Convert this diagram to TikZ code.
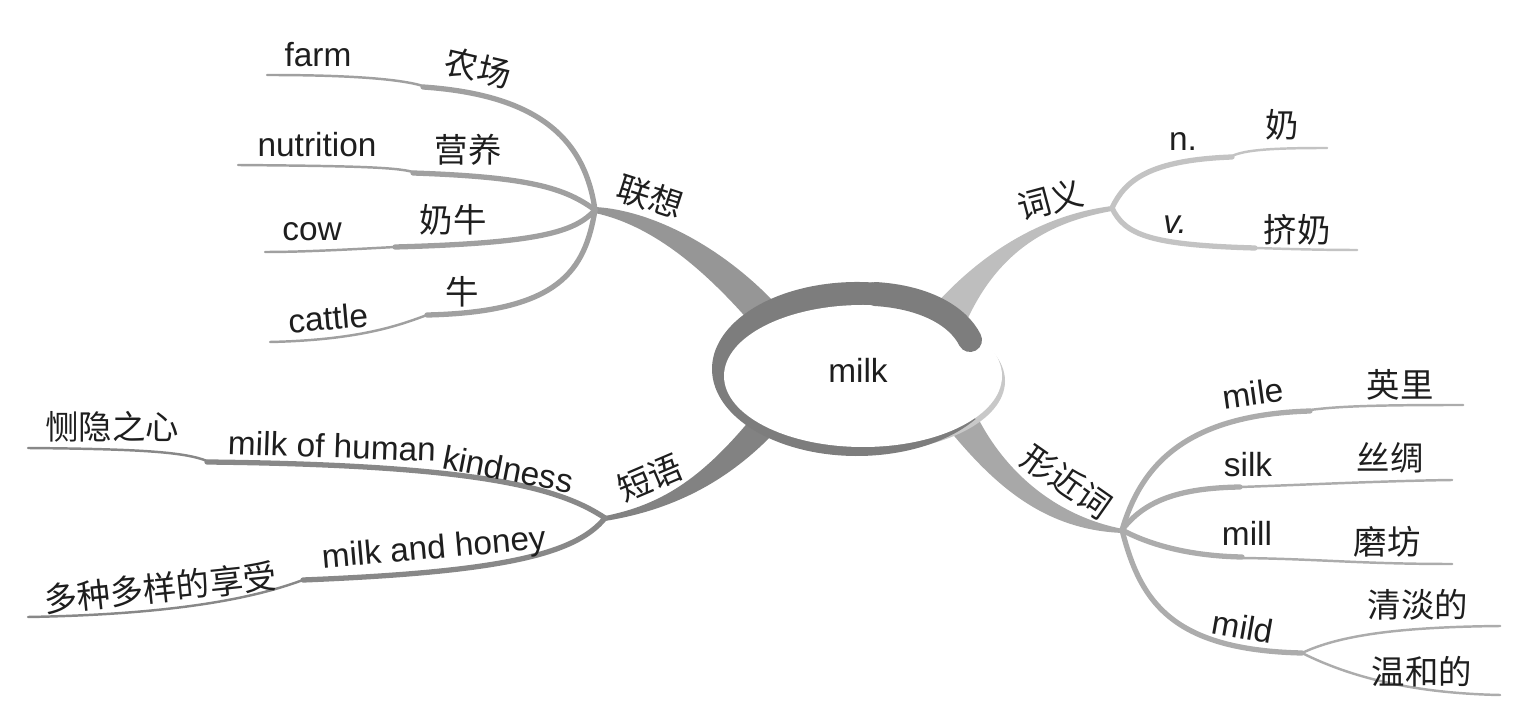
\documentclass[tikz,border=0pt]{standalone}
\usepackage{fontspec}
\setmainfont{Liberation Sans}
\newfontfamily\cjk{Noto Sans CJK SC}
\definecolor{ringgray}{RGB}{125,125,125}
\definecolor{shadowgray}{RGB}{200,200,200}
\definecolor{assocgray}{RGB}{150,150,150}
\definecolor{assocsub}{RGB}{160,160,160}
\definecolor{meangray}{RGB}{190,190,190}
\definecolor{meansub}{RGB}{195,195,195}
\definecolor{simgray}{RGB}{168,168,168}
\definecolor{simsub}{RGB}{172,172,172}
\definecolor{phrgray}{RGB}{130,130,130}
\definecolor{phrsub}{RGB}{136,136,136}
\definecolor{inkblack}{RGB}{30,30,30}

\tikzset{
  en/.style={font=\fontsize{9.5}{11}\selectfont, text=inkblack, inner sep=0pt},
  zh/.style={font=\cjk\fontsize{9.5}{11}\selectfont, text=inkblack, inner sep=0pt},
  twig/.style={line width=1.5pt, line cap=round},
  tip/.style={line width=0.7pt, line cap=round}
}

\begin{document}
\begin{tikzpicture}[x=0.01cm, y=0.01cm]

% Canvas (pixel grid, y downwards as negative)
\useasboundingbox (0,0) rectangle (1522,-707);

% Branch points
\coordinate (lx) at (595,-210);  % 联想
\coordinate (cy) at (1112,-208); % 词义
\coordinate (xj) at (1122,-530); % 形近词
\coordinate (dy) at (605,-518);  % 短语
\coordinate (md) at (1302,-653); % mild

% Trunks
\fill[assocgray] (lx) ++(0,3) .. controls (650,-210) and (720,-245) .. (775,-303)
  -- (750,-322) .. controls (700,-265) and (650,-225) .. (595,-213) -- cycle;
\fill[meangray] (935,-305) .. controls (980,-255) and (1040,-215) .. (1112,-206)
  -- (1112,-211) .. controls (1050,-222) and (1000,-250) .. (968,-318) -- cycle;
\fill[simgray] (975,-412) .. controls (1000,-465) and (1050,-515) .. (1123,-529)
  -- (1123,-533) .. controls (1040,-530) and (990,-480) .. (945,-425) -- cycle;
\fill[phrgray] (750,-420) .. controls (700,-480) and (660,-505) .. (605,-516)
  -- (605,-521) .. controls (660,-512) and (720,-490) .. (775,-432) -- cycle;

% 联想 twigs
\draw[assocsub, twig] (lx) .. controls (585,-140) and (540,-95) .. (423,-87);
\draw[assocsub, tip] (423,-86) .. controls (400,-79) and (350,-75) .. (267,-75);
\draw[assocsub, twig] (lx) .. controls (565,-188) and (530,-177) .. (413,-173);
\draw[assocsub, tip] (413,-172) .. controls (395,-167) and (350,-166) .. (238,-165);
\draw[assocsub, twig] (lx) .. controls (575,-232) and (540,-243) .. (395,-247);
\draw[assocsub, tip] (395,-247) .. controls (340,-250) and (300,-252) .. (265,-252);
\draw[assocsub, twig] (lx) .. controls (585,-270) and (560,-312) .. (427,-315);
\draw[assocsub, tip] (427,-315) .. controls (400,-325) and (360,-340) .. (270,-342);

% 词义 twigs
\draw[meansub, twig] (cy) .. controls (1125,-180) and (1150,-160) .. (1232,-157);
\draw[meansub, tip] (1232,-156) .. controls (1245,-150) and (1270,-148) .. (1327,-148);
\draw[meansub, twig] (cy) .. controls (1125,-235) and (1150,-245) .. (1255,-248);
\draw[meansub, tip] (1255,-248) .. controls (1290,-249) and (1320,-250) .. (1357,-250);

% 形近词 twigs
\draw[simsub, twig] (xj) .. controls (1140,-470) and (1180,-415) .. (1310,-411);
\draw[simsub, tip] (1310,-410) .. controls (1340,-406) and (1380,-405) .. (1463,-405);
\draw[simsub, twig] (xj) .. controls (1145,-500) and (1180,-488) .. (1240,-487);
\draw[simsub, tip] (1240,-487) .. controls (1300,-485) and (1380,-481) .. (1452,-480);
\draw[simsub, twig] (xj) .. controls (1150,-545) and (1190,-556) .. (1242,-557);
\draw[simsub, tip] (1242,-558) .. controls (1320,-559) and (1360,-564) .. (1452,-564);
\draw[simsub, twig] (xj) .. controls (1140,-600) and (1170,-650) .. (md);
\draw[simsub, tip] (md) .. controls (1340,-635) and (1400,-627) .. (1500,-626);
\draw[simsub, tip] (md) .. controls (1340,-672) and (1400,-693) .. (1500,-695);

% 短语 twigs
\draw[phrsub, twig] (dy) .. controls (560,-488) and (480,-465) .. (207,-462);
\draw[phrsub, tip] (207,-461) .. controls (185,-452) and (140,-449) .. (28,-448);
\draw[phrsub, twig] (dy) .. controls (575,-555) and (500,-572) .. (303,-580);
\draw[phrsub, tip] (303,-580) .. controls (270,-592) and (200,-614) .. (28,-617);

% Centre
\fill[shadowgray] (866,-381) ellipse [x radius=139, y radius=71];
\fill[ringgray] (857,-369) -- ++(60:145 and 87)
  arc [start angle=60, end angle=325, x radius=145, y radius=87] -- cycle;
\fill[white] (863,-376) ellipse [x radius=139, y radius=71];
\draw[ringgray, line width=0.24cm, line cap=round]
  (875,-294) .. controls (925,-297) and (958,-316) .. (970,-340);
\node[en] (milk) at (858,-370) {milk};

% Main labels
\foreach \n/\x/\y/\r/\t in {
assoc/650/197/-18/联想, mean/1050/200/15/词义,
sim/1067/482/-35/形近词, phr/650/478/23/短语
} {
    \node[zh, rotate=\r] (\n) at (\x,-\y) {\t};
}

% English labels
\foreach \n/\x/\y/\r/\t in {
farm/318/55/0/farm, nutrition/317/145/0/nutrition,
cow/312/232/0/cow, cattle/328/318/5/cattle,
noun/1183/142/0/n., verb/1175/225/0/\itshape v.,
mile/1253/393/8/mile, silk/1248/465/0/silk,
mill/1247/533/0/mill, mild/1243/627/-10/mild,
human/332/446/-2/milk of human, kind/508/469/-11/kindness,
honey/434/550/5/milk and honey
} {
    \node[en, rotate=\r] (\n) at (\x,-\y) {\t};
}

% Chinese labels
\foreach \n/\x/\y/\r/\t in {
nongchang/478/68/-13/农场, yingyang/468/150/0/营养,
nainiu/453/220/0/奶牛, niu/462/292/0/牛,
nai/1282/125/0/奶, jinai/1297/230/0/挤奶,
yingli/1400/385/0/英里, sichou/1390/458/0/丝绸,
mofang/1387/542/0/磨坊, qingdan/1418/605/0/清淡的,
wenhe/1422/672/0/温和的, ceyin/112/427/0/恻隐之心,
xiangshou/160/588/6/多种多样的享受
} {
    \node[zh, rotate=\r] (\n) at (\x,-\y) {\t};
}

\end{tikzpicture}
\end{document}
